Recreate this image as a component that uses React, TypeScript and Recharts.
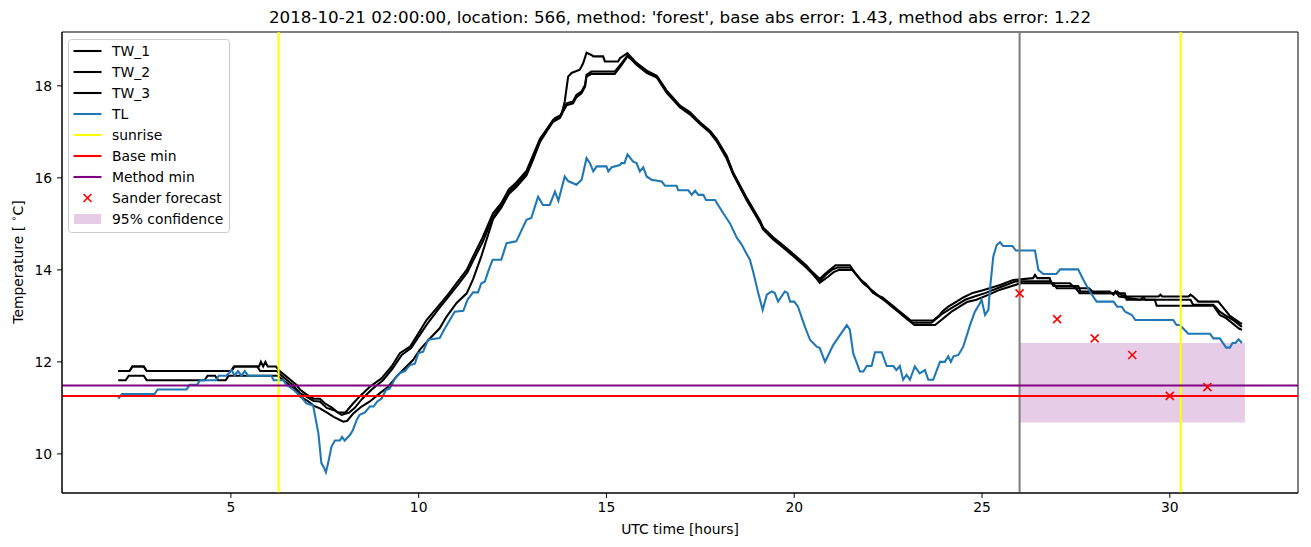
import React from 'react';
import { ComposedChart, Line, Scatter, XAxis, YAxis, ReferenceLine, ReferenceArea } from 'recharts';

type P = [number, number];

const xTicks = [5, 10, 15, 20, 25, 30];
const yTicks = [10, 12, 14, 16, 18];

const TW1: P[] = [[2.0,11.8],[2.3,11.8],[2.38,11.9],[2.68,11.9],[2.76,11.8],[5.0,11.8],[5.08,11.9],[5.75,11.9],[5.8,12.0],[5.86,11.9],[5.92,12.0],[5.98,11.9],[6.2,11.9],[6.3,11.8],[6.45,11.7],[6.6,11.6],[6.75,11.5],[6.84,11.4],[7.0,11.3],[7.2,11.2],[7.37,11.2],[7.5,11.1],[7.7,11.0],[7.85,10.9],[8.05,10.9],[8.26,11.1],[8.43,11.25],[8.7,11.46],[9.01,11.64],[9.28,11.9],[9.5,12.19],[9.77,12.33],[9.94,12.55],[10.21,12.91],[10.48,13.17],[10.74,13.42],[11.01,13.71],[11.28,14.0],[11.45,14.29],[11.7,14.7],[11.98,15.23],[12.2,15.45],[12.4,15.75],[12.6,15.9],[12.87,16.15],[13.05,16.5],[13.23,16.85],[13.45,17.1],[13.63,17.3],[13.8,17.37],[13.89,17.66],[13.98,18.2],[14.07,18.28],[14.29,18.35],[14.38,18.49],[14.47,18.72],[14.6,18.67],[14.65,18.64],[14.91,18.64],[14.96,18.53],[15.31,18.53],[15.36,18.6],[15.56,18.71],[15.8,18.49],[16.07,18.31],[16.34,18.2],[16.6,17.88],[16.96,17.55],[17.22,17.41],[17.49,17.19],[17.76,17.0],[17.93,16.83],[18.2,16.46],[18.37,16.1],[18.73,15.55],[19.09,15.05],[19.17,14.9],[19.44,14.69],[19.71,14.51],[19.97,14.33],[20.33,14.07],[20.68,13.8],[20.8,13.9],[20.95,14.0],[21.1,14.1],[21.48,14.1],[21.6,13.95],[21.75,13.8],[21.9,13.7],[22.0,13.6],[22.1,13.5],[22.2,13.45],[22.35,13.4],[22.5,13.3],[22.65,13.2],[22.8,13.1],[22.95,13.0],[23.1,12.9],[23.7,12.9],[23.85,13.0],[23.95,13.1],[24.1,13.2],[24.3,13.3],[24.5,13.4],[24.75,13.5],[25.0,13.55],[25.2,13.6],[25.48,13.67],[25.83,13.78],[26.36,13.82],[26.41,13.89],[26.47,13.82],[26.8,13.82],[26.85,13.71],[27.34,13.71],[27.48,13.6],[27.85,13.6],[27.98,13.49],[28.5,13.49],[28.6,13.53],[28.7,13.46],[28.85,13.42],[29.7,13.42],[29.75,13.46],[29.8,13.42],[30.5,13.42],[30.55,13.46],[30.62,13.42],[30.76,13.31],[31.29,13.31],[31.47,13.13],[31.6,13.0],[31.92,12.82]];

const TW2: P[] = [[2.0,11.8],[2.3,11.8],[2.38,11.9],[2.68,11.9],[2.76,11.8],[5.02,11.8],[5.1,11.9],[5.7,11.9],[5.78,11.8],[6.22,11.8],[6.35,11.7],[6.5,11.6],[6.65,11.5],[6.84,11.32],[7.0,11.25],[7.2,11.15],[7.37,11.14],[7.55,11.0],[7.75,10.95],[7.95,10.85],[8.15,10.9],[8.3,11.0],[8.5,11.2],[8.75,11.4],[9.05,11.6],[9.3,11.85],[9.55,12.15],[9.8,12.3],[10.0,12.55],[10.25,12.85],[10.5,13.12],[10.78,13.4],[11.05,13.68],[11.3,13.95],[11.45,14.2],[11.7,14.6],[11.98,15.15],[12.2,15.4],[12.4,15.7],[12.6,15.85],[12.87,16.1],[13.05,16.45],[13.23,16.8],[13.4,17.04],[13.58,17.26],[13.76,17.33],[13.85,17.48],[13.94,17.62],[14.11,17.66],[14.2,17.8],[14.34,17.88],[14.43,18.02],[14.47,18.24],[14.6,18.31],[15.22,18.31],[15.4,18.49],[15.56,18.66],[15.8,18.46],[16.07,18.28],[16.34,18.18],[16.6,17.85],[16.96,17.53],[17.22,17.38],[17.49,17.17],[17.76,16.98],[17.93,16.8],[18.2,16.42],[18.37,16.08],[18.73,15.52],[19.09,15.02],[19.17,14.88],[19.44,14.66],[19.71,14.48],[19.97,14.3],[20.33,14.04],[20.68,13.75],[20.85,13.9],[21.0,14.0],[21.15,14.05],[21.5,14.05],[21.65,13.9],[21.8,13.75],[21.95,13.65],[22.05,13.55],[22.2,13.45],[22.4,13.35],[22.55,13.25],[22.7,13.15],[22.85,13.05],[23.0,12.95],[23.15,12.85],[23.65,12.85],[23.8,12.95],[23.95,13.05],[24.15,13.15],[24.35,13.25],[24.55,13.35],[24.8,13.42],[25.1,13.5],[25.48,13.62],[25.9,13.75],[26.83,13.75],[26.9,13.65],[27.56,13.65],[27.62,13.53],[28.4,13.53],[28.5,13.46],[28.55,13.53],[28.65,13.42],[29.2,13.35],[29.3,13.4],[29.35,13.35],[30.55,13.35],[30.62,13.24],[31.16,13.24],[31.33,13.09],[31.5,13.0],[31.7,12.9],[31.92,12.76]];

const TW3: P[] = [[2.0,11.6],[2.2,11.6],[2.28,11.7],[2.68,11.7],[2.76,11.6],[4.3,11.6],[4.38,11.7],[4.58,11.7],[4.66,11.6],[4.86,11.6],[4.94,11.7],[6.25,11.7],[6.4,11.6],[6.55,11.5],[6.7,11.4],[6.84,11.25],[7.05,11.15],[7.2,11.05],[7.37,10.99],[7.55,10.9],[7.75,10.8],[7.99,10.7],[8.1,10.72],[8.26,10.88],[8.48,11.03],[8.7,11.14],[8.97,11.32],[9.19,11.46],[9.41,11.68],[9.63,11.86],[9.85,12.04],[10.03,12.26],[10.3,12.51],[10.56,12.73],[10.74,12.98],[11.01,13.28],[11.28,13.49],[11.45,13.8],[11.67,14.3],[11.98,15.1],[12.2,15.35],[12.4,15.65],[12.6,15.8],[12.87,16.05],[13.05,16.4],[13.23,16.78],[13.4,17.0],[13.58,17.22],[13.76,17.3],[13.85,17.45],[13.94,17.58],[14.11,17.62],[14.2,17.75],[14.34,17.84],[14.43,17.98],[14.47,18.2],[14.6,18.26],[15.22,18.26],[15.4,18.45],[15.56,18.64],[15.8,18.5],[16.07,18.33],[16.34,18.22],[16.6,17.9],[16.96,17.57],[17.22,17.43],[17.49,17.21],[17.76,17.02],[17.93,16.85],[18.2,16.48],[18.37,16.12],[18.73,15.57],[19.09,15.07],[19.17,14.92],[19.44,14.71],[19.71,14.53],[19.97,14.35],[20.33,14.09],[20.68,13.72],[20.9,13.85],[21.05,13.95],[21.2,14.0],[21.55,14.0],[21.7,13.85],[21.85,13.7],[22.0,13.6],[22.15,13.5],[22.3,13.4],[22.45,13.3],[22.6,13.2],[22.75,13.1],[22.9,13.0],[23.05,12.9],[23.2,12.8],[23.75,12.8],[23.9,12.9],[24.05,13.0],[24.2,13.1],[24.4,13.2],[24.6,13.3],[24.85,13.35],[25.15,13.45],[25.48,13.57],[26.03,13.71],[26.9,13.71],[26.99,13.6],[27.5,13.6],[27.6,13.49],[28.8,13.49],[28.85,13.35],[29.6,13.35],[29.65,13.22],[31.16,13.22],[31.33,13.02],[31.5,12.95],[31.85,12.72],[31.92,12.7]];

const TL: P[] = [[2.0,11.2],[2.1,11.3],[2.97,11.3],[3.05,11.4],[3.82,11.4],[3.9,11.5],[4.1,11.5],[4.18,11.6],[4.6,11.6],[4.68,11.7],[4.88,11.7],[5.02,11.82],[5.1,11.7],[5.19,11.8],[5.28,11.7],[5.37,11.8],[5.46,11.7],[6.08,11.7],[6.14,11.6],[6.4,11.6],[6.48,11.5],[6.66,11.4],[6.84,11.27],[7.01,11.1],[7.19,11.05],[7.33,10.45],[7.41,9.8],[7.48,9.7],[7.53,9.6],[7.59,9.8],[7.68,10.16],[7.77,10.29],[7.9,10.29],[7.96,10.37],[8.03,10.29],[8.17,10.41],[8.25,10.52],[8.35,10.74],[8.43,10.85],[8.57,10.9],[8.7,11.03],[8.8,11.03],[8.9,11.14],[9.01,11.2],[9.13,11.39],[9.23,11.42],[9.37,11.64],[9.5,11.76],[9.63,11.8],[9.77,11.93],[9.9,11.96],[9.99,12.19],[10.12,12.22],[10.25,12.48],[10.56,12.52],[10.7,12.73],[10.83,12.91],[10.96,13.09],[11.19,13.11],[11.3,13.35],[11.45,13.51],[11.58,13.51],[11.67,13.71],[11.76,13.74],[11.85,13.96],[11.97,14.22],[12.2,14.22],[12.34,14.58],[12.6,14.62],[12.87,15.09],[13.0,15.13],[13.18,15.59],[13.31,15.41],[13.49,15.41],[13.63,15.7],[13.72,15.5],[13.89,16.03],[13.98,15.93],[14.2,15.85],[14.34,15.96],[14.47,16.43],[14.56,16.32],[14.65,16.14],[14.74,16.25],[15.0,16.25],[15.05,16.14],[15.14,16.23],[15.36,16.28],[15.4,16.32],[15.48,16.32],[15.56,16.51],[15.71,16.35],[15.8,16.32],[15.89,16.14],[15.98,16.23],[16.07,16.03],[16.2,15.96],[16.47,15.92],[16.56,15.83],[16.87,15.83],[16.91,15.73],[17.18,15.73],[17.27,15.63],[17.36,15.72],[17.45,15.63],[17.58,15.63],[17.65,15.52],[17.89,15.52],[18.11,15.23],[18.29,15.01],[18.47,14.7],[18.6,14.55],[18.73,14.35],[18.82,14.22],[18.91,13.95],[19.04,13.5],[19.16,13.13],[19.27,13.46],[19.4,13.53],[19.48,13.5],[19.57,13.31],[19.75,13.53],[19.82,13.5],[19.89,13.31],[20.0,13.31],[20.1,13.2],[20.28,12.77],[20.42,12.48],[20.6,12.33],[20.68,12.3],[20.82,12.0],[20.95,12.22],[21.04,12.37],[21.4,12.8],[21.48,12.7],[21.57,12.19],[21.75,11.79],[21.84,11.79],[21.93,11.91],[22.06,11.91],[22.15,12.21],[22.33,12.21],[22.46,11.91],[22.64,11.91],[22.72,11.82],[22.81,11.91],[22.9,11.61],[22.99,11.72],[23.08,11.61],[23.21,11.9],[23.34,11.75],[23.48,11.82],[23.57,11.61],[23.7,11.61],[23.88,12.0],[24.01,12.0],[24.1,12.12],[24.17,12.0],[24.24,12.12],[24.37,12.15],[24.5,12.33],[24.68,12.8],[24.81,13.09],[24.94,13.27],[24.99,13.35],[25.08,13.02],[25.17,13.13],[25.21,13.57],[25.3,14.29],[25.39,14.54],[25.48,14.6],[25.56,14.52],[25.81,14.52],[25.9,14.42],[26.41,14.42],[26.5,14.0],[26.63,13.91],[26.98,13.91],[27.08,14.01],[27.56,14.01],[27.7,13.78],[27.87,13.53],[28.05,13.31],[28.5,13.31],[28.6,13.2],[28.72,13.2],[28.81,13.09],[28.99,13.02],[29.08,12.91],[30.09,12.91],[30.18,12.8],[30.27,12.8],[30.49,12.61],[31.07,12.61],[31.16,12.51],[31.33,12.51],[31.5,12.31],[31.6,12.31],[31.67,12.41],[31.75,12.41],[31.83,12.49],[31.92,12.41]];

const forecastHours = [26, 27, 28, 29, 30, 31];
const forecastTemps = [13.49, 12.93, 12.51, 12.15, 11.26, 11.45];

const sunriseHours = [6.27, 30.29];
const forecastStart = 26.0;
const baseMin = 11.26;
const methodMin = 11.485;
const confidence = { x1: 26.0, x2: 32.0, low: 10.68, high: 12.41 };

const X_DOMAIN: [number, number] = [0.504, 33.413];
const Y_DOMAIN: [number, number] = [9.15, 19.17];

const toObj = (arr: P[]) => arr.map(([x, y]) => ({ x, y }));
const forecastData = forecastHours.map((x, i) => ({ x, y: forecastTemps[i] }));

const FONT = '"DejaVu Sans", sans-serif';
const LW = 2.08;
const FS = 13.9;

const XMark = (props: any) => {
  const { cx, cy } = props;
  if (cx == null || cy == null) return null;
  const r = 4;
  return (
    <g>
      <line x1={cx - r} y1={cy - r} x2={cx + r} y2={cy + r} stroke="#ff0000" strokeWidth={1.6} />
      <line x1={cx - r} y1={cy + r} x2={cx + r} y2={cy - r} stroke="#ff0000" strokeWidth={1.6} />
    </g>
  );
};

const legendItems = [
  { label: 'TW_1', kind: 'line', color: '#000000' },
  { label: 'TW_2', kind: 'line', color: '#000000' },
  { label: 'TW_3', kind: 'line', color: '#000000' },
  { label: 'TL', kind: 'line', color: '#1f77b4' },
  { label: 'sunrise', kind: 'line', color: '#ffff00' },
  { label: 'Base min', kind: 'line', color: '#ff0000' },
  { label: 'Method min', kind: 'line', color: '#800080' },
  { label: 'Sander forecast', kind: 'x', color: '#ff0000' },
  { label: '95% confidence', kind: 'patch', color: '#800080' },
];

const Overlay = () => (
  <svg width={1311} height={547} style={{ position: 'absolute', left: 0, top: 0, pointerEvents: 'none' }} fontFamily={FONT}>
    <text x={680} y={17} textAnchor="middle" dominantBaseline="central" fontSize={16.7} fill="#000">
      2018-10-21 02:00:00, location: 566, method: 'forest', base abs error: 1.43, method abs error: 1.22
    </text>
    <text x={680} y={529} textAnchor="middle" dominantBaseline="central" fontSize={FS} fill="#000">UTC time [hours]</text>
    <text transform="translate(18,262) rotate(-90)" textAnchor="middle" dominantBaseline="central" fontSize={FS} fill="#000">
      Temperature [ <tspan fontSize={9.7} dy={-5}>∘</tspan><tspan dy={5}>C]</tspan>
    </text>
    <g transform="translate(68.5,39.5)">
      <rect x={0} y={0} width={161} height={193} rx={3} ry={3} fill="#ffffff" fillOpacity={0.8} stroke="#cccccc" strokeWidth={1} />
      {legendItems.map((it, i) => {
        const cy = 11.5 + i * 21;
        return (
          <g key={it.label}>
            {it.kind === 'line' && <line x1={5} x2={33} y1={cy} y2={cy} stroke={it.color} strokeWidth={LW} />}
            {it.kind === 'x' && (
              <g>
                <line x1={15} y1={cy - 4} x2={23} y2={cy + 4} stroke={it.color} strokeWidth={1.6} />
                <line x1={15} y1={cy + 4} x2={23} y2={cy - 4} stroke={it.color} strokeWidth={1.6} />
              </g>
            )}
            {it.kind === 'patch' && <rect x={5.5} y={cy - 5} width={27} height={10} fill={it.color} fillOpacity={0.2} />}
            <text x={43.5} y={cy} dominantBaseline="central" fontSize={FS} fill="#000">{it.label}</text>
          </g>
        );
      })}
    </g>
  </svg>
);

export default function App() {
  return (
    <div style={{ position: 'absolute', left: 0, top: 0, width: 1311, height: 547, background: '#ffffff', fontFamily: FONT }}>
      <ComposedChart width={1311} height={547} margin={{ top: 32, right: 13, bottom: 0, left: 0 }}>
        <XAxis
          type="number"
          dataKey="x"
          domain={X_DOMAIN}
          ticks={xTicks}
          allowDataOverflow
          height={54}
          tickSize={4.9}
          tickMargin={4}
          stroke="#000"
          tick={{ fill: '#000', fontSize: FS, fontFamily: FONT }}
        />
        <YAxis
          type="number"
          dataKey="y"
          domain={Y_DOMAIN}
          ticks={yTicks}
          allowDataOverflow
          width={62}
          tickSize={4.9}
          tickMargin={5}
          stroke="#000"
          tick={{ fill: '#000', fontSize: FS, fontFamily: FONT }}
        />
        <Line data={toObj(TW1)} dataKey="y" type="linear" stroke="#000" strokeWidth={LW} dot={false} isAnimationActive={false} />
        <Line data={toObj(TW2)} dataKey="y" type="linear" stroke="#000" strokeWidth={LW} dot={false} isAnimationActive={false} />
        <Line data={toObj(TW3)} dataKey="y" type="linear" stroke="#000" strokeWidth={LW} dot={false} isAnimationActive={false} />
        <Line data={toObj(TL)} dataKey="y" type="linear" stroke="#1f77b4" strokeWidth={LW} dot={false} isAnimationActive={false} />
        {sunriseHours.map((h) => (
          <ReferenceLine key={'s' + h} x={h} stroke="#ffff00" strokeWidth={LW} />
        ))}
        <ReferenceLine x={forecastStart} stroke="#808080" strokeWidth={LW} />
        <ReferenceLine y={baseMin} stroke="#ff0000" strokeWidth={LW} />
        <ReferenceLine y={methodMin} stroke="#800080" strokeWidth={LW} />
        <ReferenceArea x1={confidence.x1} x2={confidence.x2} y1={confidence.low} y2={confidence.high} fill="#800080" fillOpacity={0.2} stroke="none" />
        <Scatter data={forecastData} dataKey="y" shape={XMark} isAnimationActive={false} />
        <ReferenceArea x1={X_DOMAIN[0]} x2={X_DOMAIN[1]} y1={Y_DOMAIN[0]} y2={Y_DOMAIN[1]} fill="none" stroke="#000" strokeWidth={1} />
      </ComposedChart>
      <Overlay />
    </div>
  );
}
